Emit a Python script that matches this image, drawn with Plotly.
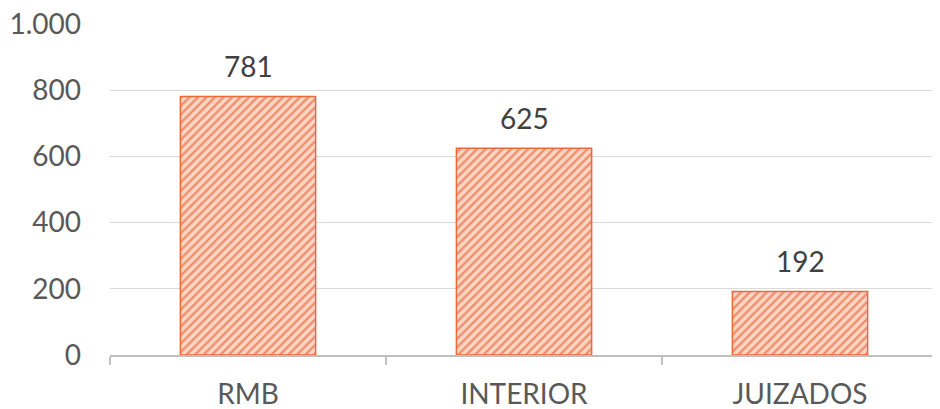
import plotly.graph_objects as go

categories = ["RMB", "INTERIOR", "JUIZADOS"]
values = [781, 625, 192]
y_ticks = [0, 200, 400, 600, 800, 1000]

font_family = "Lato, 'Open Sans', sans-serif"

fig = go.Figure()
fig.add_trace(go.Bar(
    x=categories,
    y=values,
    width=0.49,
    marker=dict(
        color="#FBD6C2",
        line=dict(color="#EA6A3A", width=1.5),
        pattern=dict(shape="/", fgcolor="#E0461A", bgcolor="#FBD6C2",
                     size=6, solidity=0.4),
    ),
    hoverinfo="skip",
))

for c, v in zip(categories, values):
    fig.add_annotation(x=c, y=v, text=str(v), showarrow=False,
                       yanchor="bottom", yshift=11,
                       font=dict(size=28, color="#404040", family=font_family))

fig.update_layout(
    width=940, height=409,
    margin=dict(l=102, r=10, t=16, b=62, autoexpand=False),
    paper_bgcolor="white", plot_bgcolor="white",
    separators=",.",
    showlegend=False,
    font=dict(family=font_family, size=28, color="#595959"),
    xaxis=dict(
        automargin=False,
        showline=True, linecolor="#BFBFBF", linewidth=2,
        ticks="outside", tickson="boundaries", ticklen=8, tickcolor="#BFBFBF",
        tickwidth=2, showgrid=False,
        ticklabelstandoff=13,
        tickfont=dict(size=28, color="#595959"),
    ),
    yaxis=dict(
        automargin=False,
        range=[0, 1000], tickvals=y_ticks, tickformat=",d",
        showgrid=True, gridcolor="#D9D9D9", gridwidth=1,
        showline=False, zeroline=False, ticks="",
        ticklabelstandoff=28, ticklabeloverflow="allow",
        tickfont=dict(size=28, color="#595959"),
    ),
)

fig.write_html("out.html")
